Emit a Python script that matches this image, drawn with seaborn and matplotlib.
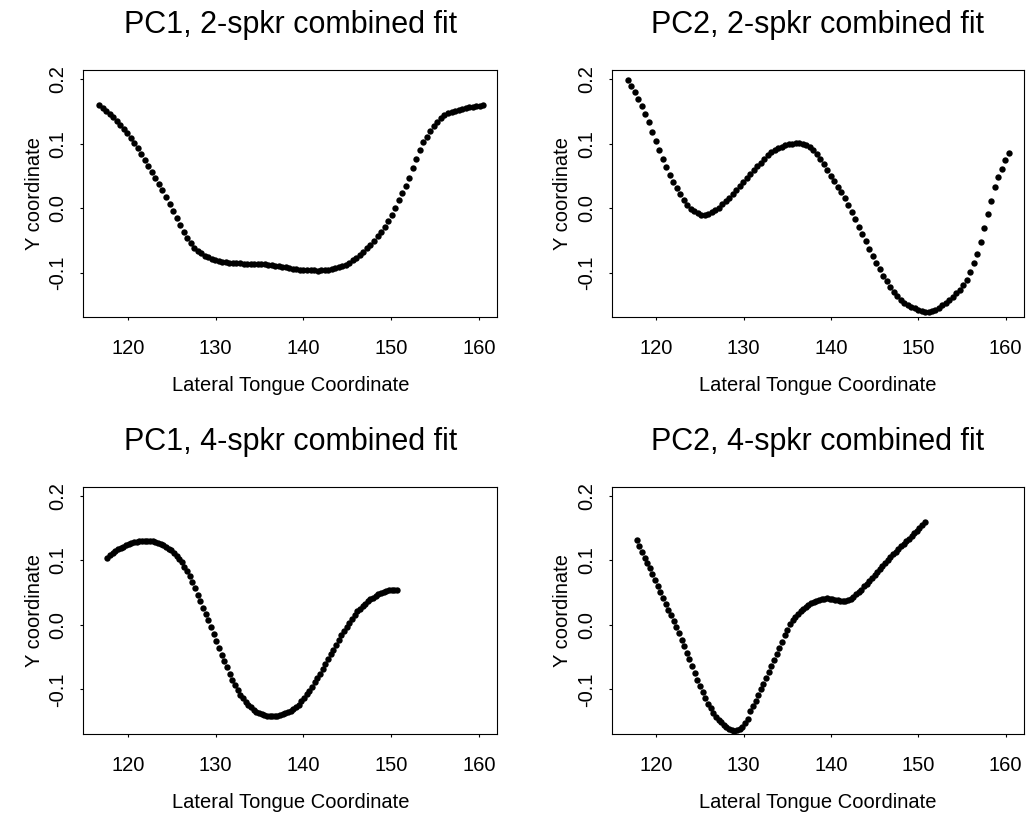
import numpy as np
import pandas as pd
import matplotlib
matplotlib.use("Agg")
import matplotlib.pyplot as plt
import seaborn as sns

# ---------------- data ----------------
titles = ["PC1, 2-spkr combined fit", "PC2, 2-spkr combined fit",
          "PC1, 4-spkr combined fit", "PC2, 4-spkr combined fit"]
x_label = "Lateral Tongue Coordinate"
y_label = "Y coordinate"
x_ticks = [120, 130, 140, 150, 160]
y_ticks = [-0.1, 0.0, 0.1, 0.2]
y_tick_labels = ["-0.1", "0.0", "0.1", "0.2"]

# x ranges of the uniformly spaced lateral samples (first, last)
x_range_pc1_2spkr = (116.69, 160.50)
x_range_pc2_2spkr = (116.76, 160.37)
x_range_pc1_4spkr = (117.65, 150.67)
x_range_pc2_4spkr = (117.75, 150.74)

y_pc1_2spkr = [
    0.1600, 0.1555, 0.1510, 0.1464, 0.1420, 0.1358, 0.1297, 0.1236, 0.1174, 0.1097,
    0.1017, 0.0936, 0.0844, 0.0751, 0.0657, 0.0565, 0.0474, 0.0383, 0.0279, 0.0169,
    0.0061, -0.0048, -0.0157, -0.0265, -0.0365, -0.0462, -0.0540, -0.0608, -0.0655, -0.0700,
    -0.0735, -0.0760, -0.0784, -0.0808, -0.0822, -0.0829, -0.0837, -0.0844, -0.0852, -0.0854,
    -0.0855, -0.0856, -0.0857, -0.0858, -0.0859, -0.0861, -0.0862, -0.0866, -0.0873, -0.0880,
    -0.0887, -0.0893, -0.0903, -0.0914, -0.0925, -0.0935, -0.0946, -0.0950, -0.0953, -0.0956,
    -0.0960, -0.0963, -0.0966, -0.0962, -0.0956, -0.0950, -0.0944, -0.0931, -0.0912, -0.0894,
    -0.0874, -0.0842, -0.0805, -0.0767, -0.0728, -0.0675, -0.0621, -0.0567, -0.0511, -0.0437,
    -0.0365, -0.0286, -0.0192, -0.0098, 0.0007, 0.0123, 0.0240, 0.0353, 0.0472, 0.0618,
    0.0767, 0.0896, 0.1021, 0.1110, 0.1197, 0.1275, 0.1342, 0.1403, 0.1440, 0.1473,
    0.1490, 0.1507, 0.1524, 0.1541, 0.1554, 0.1564, 0.1573, 0.1582, 0.1591, 0.1600,
]

y_pc2_2spkr = [
    0.1990, 0.1900, 0.1810, 0.1698, 0.1586, 0.1458, 0.1331, 0.1190, 0.1048, 0.0904,
    0.0760, 0.0635, 0.0512, 0.0408, 0.0308, 0.0217, 0.0127, 0.0057, -0.0005, -0.0044,
    -0.0075, -0.0100, -0.0108, -0.0095, -0.0065, -0.0028, 0.0010, 0.0064, 0.0114, 0.0164,
    0.0222, 0.0284, 0.0345, 0.0407, 0.0469, 0.0531, 0.0592, 0.0653, 0.0709, 0.0765,
    0.0821, 0.0868, 0.0905, 0.0935, 0.0957, 0.0975, 0.0990, 0.1002, 0.1008, 0.1006,
    0.0995, 0.0975, 0.0945, 0.0900, 0.0835, 0.0760, 0.0680, 0.0595, 0.0508, 0.0422,
    0.0335, 0.0247, 0.0153, 0.0046, -0.0061, -0.0171, -0.0285, -0.0400, -0.0514, -0.0629,
    -0.0743, -0.0846, -0.0946, -0.1045, -0.1132, -0.1217, -0.1300, -0.1363, -0.1420, -0.1465,
    -0.1495, -0.1525, -0.1553, -0.1572, -0.1590, -0.1606, -0.1612, -0.1595, -0.1570, -0.1540,
    -0.1502, -0.1463, -0.1425, -0.1373, -0.1319, -0.1264, -0.1196, -0.1118, -0.0982, -0.0846,
    -0.0712, -0.0527, -0.0311, -0.0084, 0.0118, 0.0324, 0.0478, 0.0611, 0.0752, 0.0853,
]

y_pc1_4spkr = [
    0.1044, 0.1080, 0.1117, 0.1145, 0.1172, 0.1196, 0.1216, 0.1236, 0.1256, 0.1272,
    0.1282, 0.1290, 0.1297, 0.1302, 0.1306, 0.1307, 0.1306, 0.1300, 0.1290, 0.1276,
    0.1260, 0.1238, 0.1210, 0.1180, 0.1155, 0.1115, 0.1072, 0.1029, 0.0970, 0.0903,
    0.0834, 0.0752, 0.0671, 0.0572, 0.0470, 0.0371, 0.0271, 0.0174, 0.0073, -0.0028,
    -0.0141, -0.0251, -0.0357, -0.0465, -0.0562, -0.0659, -0.0757, -0.0849, -0.0931, -0.1012,
    -0.1078, -0.1135, -0.1192, -0.1237, -0.1276, -0.1312, -0.1345, -0.1368, -0.1384, -0.1396,
    -0.1404, -0.1409, -0.1411, -0.1410, -0.1404, -0.1395, -0.1382, -0.1367, -0.1350, -0.1326,
    -0.1298, -0.1268, -0.1237, -0.1185, -0.1130, -0.1075, -0.1020, -0.0960, -0.0891, -0.0822,
    -0.0753, -0.0680, -0.0606, -0.0529, -0.0455, -0.0380, -0.0303, -0.0228, -0.0157, -0.0092,
    -0.0025, 0.0034, 0.0093, 0.0152, 0.0210, 0.0251, 0.0291, 0.0333, 0.0370, 0.0397,
    0.0424, 0.0452, 0.0474, 0.0492, 0.0510, 0.0528, 0.0536, 0.0540, 0.0542, 0.0543,
]

y_pc2_4spkr = [
    0.1318, 0.1222, 0.1124, 0.1042, 0.0962, 0.0882, 0.0787, 0.0694, 0.0602, 0.0512,
    0.0420, 0.0330, 0.0240, 0.0150, 0.0058, -0.0036, -0.0131, -0.0226, -0.0329, -0.0430,
    -0.0531, -0.0635, -0.0745, -0.0852, -0.0950, -0.1043, -0.1139, -0.1224, -0.1294, -0.1365,
    -0.1429, -0.1470, -0.1510, -0.1552, -0.1585, -0.1612, -0.1632, -0.1640, -0.1632, -0.1610,
    -0.1575, -0.1520, -0.1455, -0.1340, -0.1255, -0.1172, -0.1087, -0.1000, -0.0910, -0.0820,
    -0.0731, -0.0639, -0.0542, -0.0447, -0.0352, -0.0257, -0.0162, -0.0075, 0.0012, 0.0070,
    0.0125, 0.0178, 0.0220, 0.0252, 0.0283, 0.0311, 0.0340, 0.0357, 0.0373, 0.0388,
    0.0400, 0.0410, 0.0412, 0.0410, 0.0402, 0.0394, 0.0385, 0.0377, 0.0372, 0.0373,
    0.0385, 0.0406, 0.0440, 0.0474, 0.0510, 0.0550, 0.0598, 0.0643, 0.0687, 0.0733,
    0.0781, 0.0826, 0.0871, 0.0917, 0.0961, 0.1006, 0.1051, 0.1097, 0.1137, 0.1177,
    0.1218, 0.1258, 0.1297, 0.1338, 0.1380, 0.1420, 0.1462, 0.1505, 0.1548, 0.1592,
]

panels = [
    (titles[0], x_range_pc1_2spkr, y_pc1_2spkr),
    (titles[1], x_range_pc2_2spkr, y_pc2_2spkr),
    (titles[2], x_range_pc1_4spkr, y_pc1_4spkr),
    (titles[3], x_range_pc2_4spkr, y_pc2_4spkr),
]

# ---------------- style ----------------
sns.set_style("white")
plt.rcParams['font.family'] = ['Liberation Sans', 'DejaVu Sans']
plt.rcParams['text.color'] = 'black'
plt.rcParams['axes.labelcolor'] = 'black'
plt.rcParams['xtick.color'] = 'black'
plt.rcParams['ytick.color'] = 'black'

W, H = 1026, 815
fig = plt.figure(figsize=(W / 100, H / 100), dpi=100)

# axes rectangles in pixels: left, top, right, bottom
rects = [
    (83.3, 70.0, 497.3, 317.3),
    (611.7, 70.0, 1024.0, 317.3),
    (83.3, 486.7, 497.3, 734.0),
    (611.7, 486.7, 1024.0, 734.0),
]

for (title, xr, ys), (l, t, r, b) in zip(panels, rects):
    ax = fig.add_axes([l / W, 1 - b / H, (r - l) / W, (b - t) / H])
    xs = np.linspace(xr[0], xr[1], len(ys))
    df = pd.DataFrame({"x": xs, "y": ys})
    sns.scatterplot(data=df, x="x", y="y", ax=ax, color="black", s=21,
                    linewidth=0, legend=False, clip_on=False)
    ax.set_xlim(114.9, 162.1)
    ax.set_ylim(-0.169, 0.2144)
    ax.set_xticks(x_ticks)
    ax.set_xticklabels([str(v) for v in x_ticks])
    ax.set_yticks(y_ticks)
    ax.set_yticklabels(y_tick_labels, rotation=90, va="center")
    ax.tick_params(axis="both", which="both", direction="out", length=2.2,
                   width=0.8, color="black", labelsize=14.5, labelcolor="black",
                   bottom=True, left=True)
    ax.tick_params(axis="x", pad=13.7)
    ax.tick_params(axis="y", pad=9.1)
    for sp in ax.spines.values():
        sp.set_color("black")
        sp.set_linewidth(0.8)
        sp.set_visible(True)
    ax.set_xlabel(x_label, fontsize=14.5, color="black")
    ax.set_ylabel(y_label, fontsize=14.5, color="black")
    ax.xaxis.set_label_coords(0.5, -0.237)
    ax.yaxis.set_label_coords(-0.096, 0.5)
    ax.set_title(title, fontsize=22, pad=26.4, color="black")
    ax.grid(False)

fig.savefig("out.png", dpi=100)
